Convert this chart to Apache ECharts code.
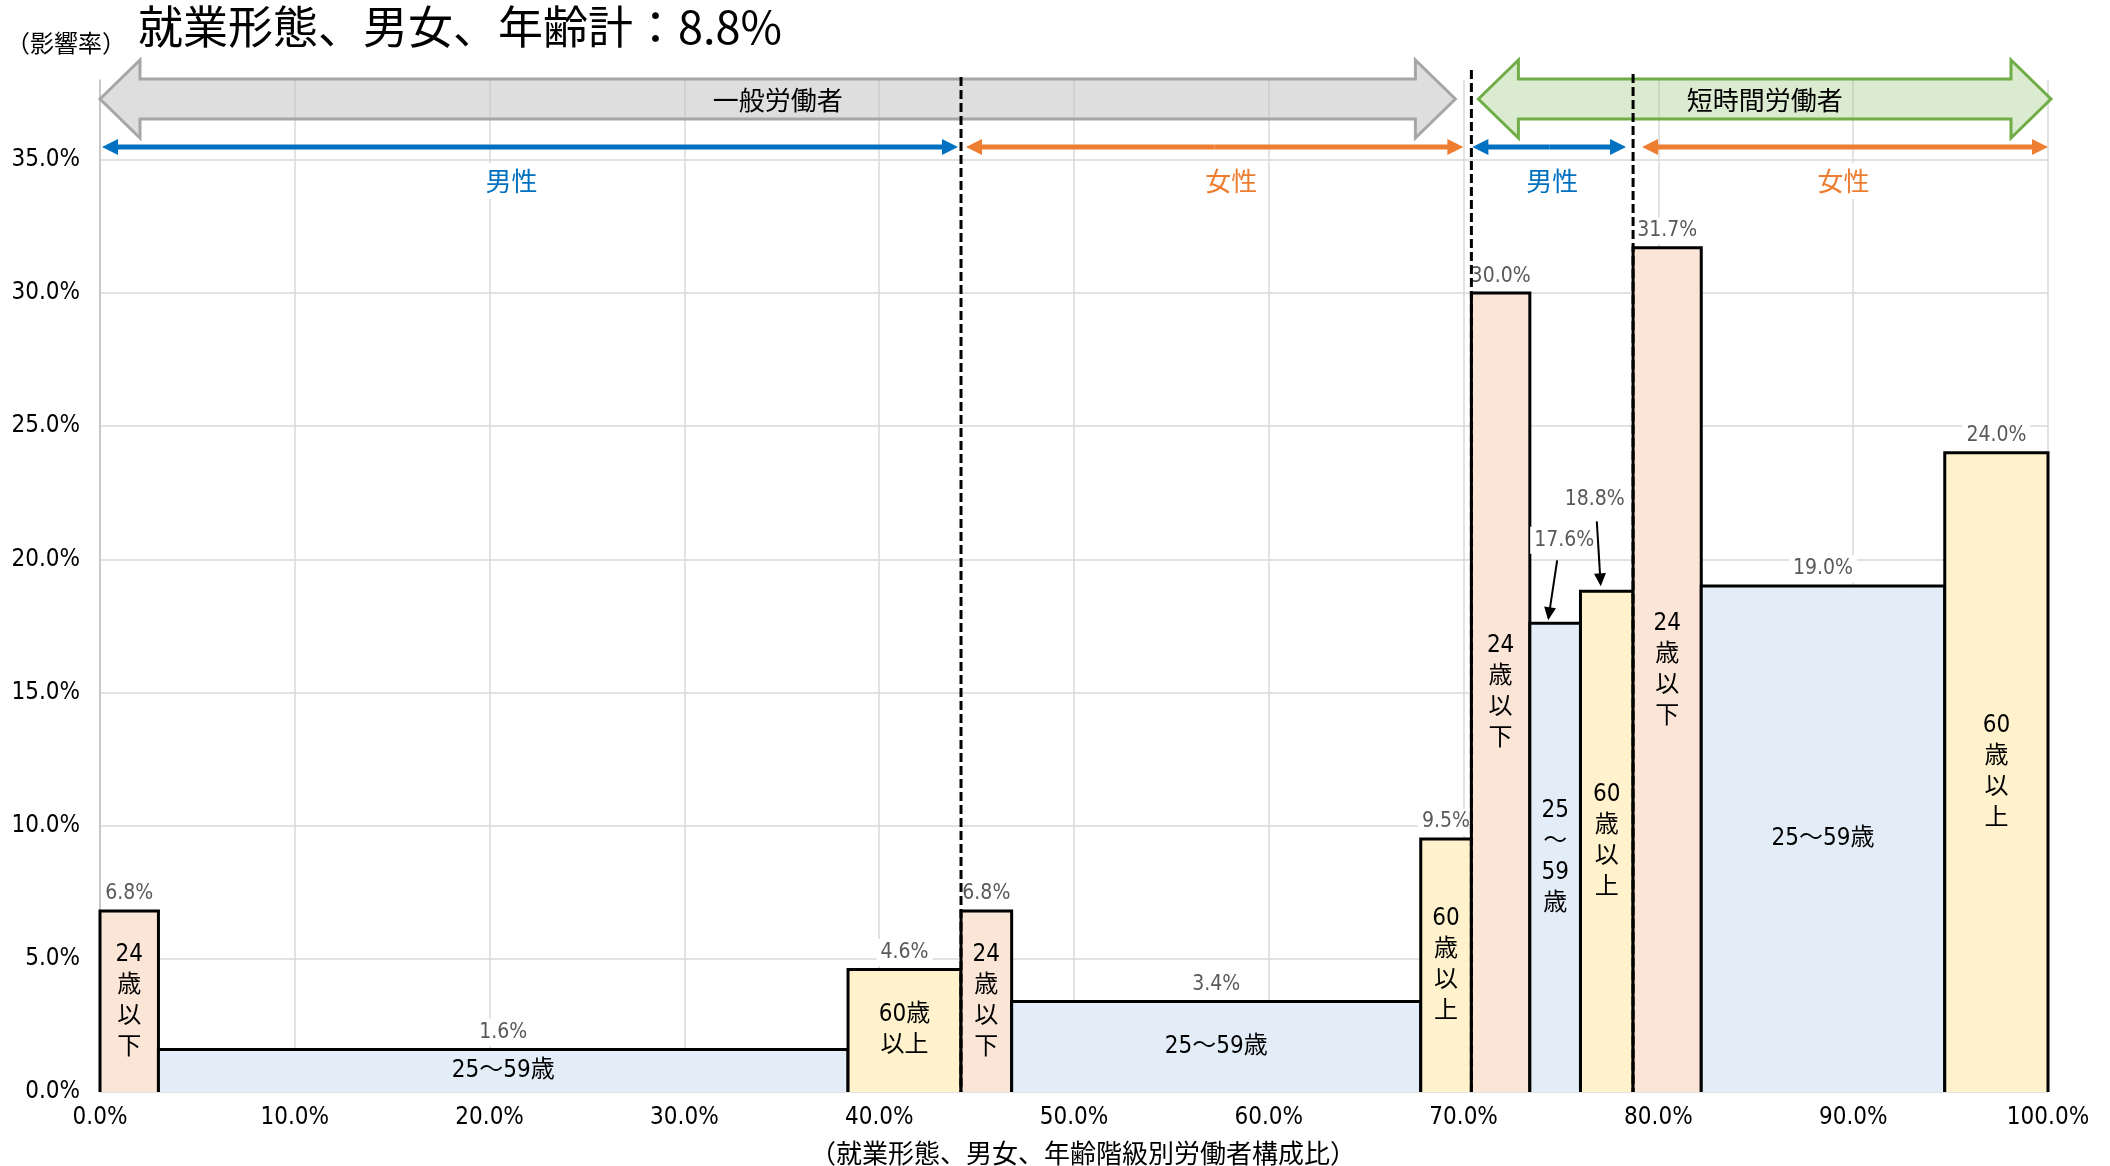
<!DOCTYPE html>
<html><head><meta charset="utf-8">
<script src="https://cdn.jsdelivr.net/npm/echarts@6/dist/echarts.min.js"></script>
<style>html,body{margin:0;padding:0;background:#fff}#c{width:2110px;height:1166px}</style>
</head><body><div id="c"></div>
<script>
// ---------------- data ----------------
const titleText = '就業形態、男女、年齢計：8.8%';
const yAxisTitle = '（影響率）';
const xAxisTitle = '（就業形態、男女、年齢階級別労働者構成比）';
const employmentTypes = ['一般労働者', '短時間労働者'];
const sexLabels = ['男性', '女性', '男性', '女性'];
const ageGroups = ['24歳以下', '25～59歳', '60歳以上'];
// composition ratio of each segment (% of workers), ordered employment > sex > age
const shares = [3.0, 35.4, 5.8, 2.6, 21.0, 2.6, 3.0, 2.6, 2.7, 3.5, 12.5, 5.3];
// impact rate (%)
const rates = [6.8, 1.6, 4.6, 6.8, 3.4, 9.5, 30.0, 17.6, 18.8, 31.7, 19.0, 24.0];
// text written inside each bar
const barTexts = ['24\n歳\n以\n下', '25～59歳', '60歳\n以上',
                  '24\n歳\n以\n下', '25～59歳', '60\n歳\n以\n上',
                  '24\n歳\n以\n下', '25\n～\n59\n歳', '60\n歳\n以\n上',
                  '24\n歳\n以\n下', '25～59歳', '60\n歳\n以\n上'];
const xTickStep = 10;
const yTickStep = 5;
const yTickMax = 35;

// ---------------- derived ----------------
const starts = [];
let acc = 0;
shares.forEach(s => { starts.push(Math.round(acc * 10) / 10); acc += s; });
const ends = starts.map((s, i) => Math.round((s + shares[i]) * 10) / 10);
const barData = rates.map((r, i) => [starts[i], ends[i], r, i]);
const sexBounds = [0, ends[2], ends[5], ends[8], ends[11]];
const empBounds = [0, ends[5], ends[11]];

const NUM_FAMILY = "'DejaVu Sans','Noto Sans CJK JP',sans-serif";
const NUM = sz => 'normal condensed ' + sz + 'px ' + NUM_FAMILY;
const JP_FONT = "'Noto Sans CJK JP','Noto Sans',sans-serif";
const FILLS = ['#FBE5D6', '#E2EDF7', '#FFF2CC'];
const BLUE = '#0070C0', ORANGE = '#ED7D31';
const sexColors = [BLUE, ORANGE, BLUE, ORANGE];

const callouts = {
  7: { lx: 9, ly: -83, ax1: 2, ay1: -63, ax2: -7, ay2: -3 },
  8: { lx: -12, ly: -92, ax1: -10, ay1: -70, ax2: -6, ay2: -5 }
};

function arrowLine(x1, y1, x2, y2, color, lw, hl, hw) {
  const dx = x2 - x1, dy = y2 - y1, len = Math.sqrt(dx * dx + dy * dy);
  const ux = dx / len, uy = dy / len;
  const bx = x2 - ux * hl, by = y2 - uy * hl;
  return [
    { type: 'line', shape: { x1: x1, y1: y1, x2: bx + ux, y2: by + uy }, style: { stroke: color, lineWidth: lw } },
    { type: 'polygon', shape: { points: [[x2, y2], [bx - uy * hw, by + ux * hw], [bx + uy * hw, by - ux * hw]] }, style: { fill: color } }
  ];
}

function renderBar(params, api) {
  const s = api.value(0), e = api.value(1), v = api.value(2), i = api.value(3);
  const p0 = api.coord([s, v]), p1 = api.coord([e, 0]);
  const x0 = p0[0], yt = p0[1], x1 = p1[0], yb = p1[1];
  const cx = (x0 + x1) / 2;
  const children = [
    { type: 'rect', shape: { x: x0, y: yt, width: x1 - x0, height: yb - yt }, style: { fill: FILLS[i % 3] } },
    { type: 'polyline', shape: { points: [[x0, yb], [x0, yt], [x1, yt], [x1, yb]] }, style: { stroke: '#000', lineWidth: 3, fill: null } },
    { type: 'text', x: cx, y: (yt + yb) / 2, style: { text: barTexts[i], font: NUM(24), fill: '#000', align: 'center', verticalAlign: 'middle', lineHeight: 31 } }
  ];
  const lbl = v.toFixed(1) + '%';
  const c = callouts[i];
  const lblStyle = { text: lbl, font: NUM(21), fill: '#595959', align: 'center', verticalAlign: 'middle', backgroundColor: '#fff', padding: [3, 4] };
  if (c) {
    children.push({ type: 'text', x: cx + c.lx, y: yt + c.ly, style: lblStyle });
    arrowLine(cx + c.ax1, yt + c.ay1, cx + c.ax2, yt + c.ay2, '#000', 2, 13, 6).forEach(el => children.push(el));
  } else {
    children.push({ type: 'text', x: cx, y: yt - 17, style: lblStyle });
  }
  return { type: 'group', children: children };
}

function renderAnno(params, api) {
  const yTop = api.coord([0, 38])[1];
  const yBot = api.coord([0, 0])[1];
  const X = v => api.coord([v, 0])[0];
  const ch = [];
  const yc = yTop + 19, bh = 20, hh = 39, hl = 40;
  const empStyles = [
    { fill: 'rgba(191,191,191,0.52)', stroke: '#A6A6A6', xa: X(empBounds[0]), xb: X(empBounds[1]) - 16, dx: -8 },
    { fill: 'rgba(169,208,142,0.42)', stroke: '#70AD47', xa: X(empBounds[1]) + 7, xb: X(empBounds[2]) + 3, dx: 5 }
  ];
  empStyles.forEach((st, k) => {
    const xa = st.xa, xb = st.xb;
    ch.push({ type: 'polygon', shape: { points: [[xa, yc], [xa + hl, yc - hh], [xa + hl, yc - bh], [xb - hl, yc - bh], [xb - hl, yc - hh], [xb, yc], [xb - hl, yc + hh], [xb - hl, yc + bh], [xa + hl, yc + bh], [xa + hl, yc + hh]] },
      style: { fill: st.fill, stroke: st.stroke, lineWidth: 3, lineJoin: 'miter' } });
    ch.push({ type: 'text', x: (X(empBounds[k]) + X(empBounds[k + 1])) / 2 + st.dx, y: yc + 1, style: { text: employmentTypes[k], font: '26px ' + JP_FONT, fill: '#000', align: 'center', verticalAlign: 'middle' } });
  });
  const ya = yTop + 67;
  const offs = [[2, -3], [5, -8], [1, -7], [9, 0]];
  const labelShift = [-19, 15, 0, 3];
  for (let k = 0; k < 4; k++) {
    const xa = X(sexBounds[k]) + offs[k][0], xb = X(sexBounds[k + 1]) + offs[k][1];
    const col = sexColors[k];
    const mid = (xa + xb) / 2;
    arrowLine(mid, ya, xa, ya, col, 5, 16, 8).forEach(el => ch.push(el));
    arrowLine(mid, ya, xb, ya, col, 5, 16, 8).forEach(el => ch.push(el));
    ch.push({ type: 'text', x: (X(sexBounds[k]) + X(sexBounds[k + 1])) / 2 + labelShift[k], y: yTop + 101, style: { text: sexLabels[k], font: '26px ' + JP_FONT, fill: col, align: 'center', verticalAlign: 'middle', backgroundColor: '#fff', padding: [5, 6] } });
  }
  [[sexBounds[1], -3], [sexBounds[2], -10], [sexBounds[3], -6]].forEach(d => {
    const x = X(d[0]);
    ch.push({ type: 'line', shape: { x1: x, y1: yTop + d[1], x2: x, y2: yBot }, style: { stroke: '#000', lineWidth: 3, lineDash: [9, 4] }, z2: 10 });
  });
  return { type: 'group', children: ch };
}

const chart = echarts.init(document.getElementById('c'));
chart.setOption({
  animation: false,
  backgroundColor: '#fff',
  grid: { left: 100, right: 62, top: 80, bottom: 74, containLabel: false },
  xAxis: {
    type: 'value', min: 0, max: 100, interval: xTickStep,
    axisLine: { show: false }, axisTick: { show: false },
    axisLabel: { formatter: v => v.toFixed(1) + '%', fontFamily: NUM_FAMILY, fontWeight: 'condensed', fontSize: 24, color: '#000', margin: 14 },
    splitLine: { show: true, lineStyle: { color: '#D9D9D9', width: 1.5 } }
  },
  yAxis: {
    type: 'value', min: 0, max: 38, interval: yTickStep,
    axisLine: { show: true, lineStyle: { color: '#BFBFBF', width: 1.5 } }, axisTick: { show: false },
    axisLabel: { formatter: v => (v <= yTickMax ? v.toFixed(1) + '%' : ''), showMaxLabel: false, fontFamily: NUM_FAMILY, fontWeight: 'condensed', fontSize: 24, color: '#000', margin: 20 },
    splitLine: { show: true, showMaxLine: false, lineStyle: { color: '#D9D9D9', width: 1.5 } }
  },
  graphic: [
    { type: 'text', left: 138, top: 4, style: { text: titleText, font: '45px ' + JP_FONT, fill: '#000' } },
    { type: 'text', left: 6, top: 31, style: { text: yAxisTitle, font: '24px ' + JP_FONT, fill: '#000' } },
    { type: 'text', x: 1083, y: 1153, style: { text: xAxisTitle, font: '26px ' + JP_FONT, fill: '#000', align: 'center', verticalAlign: 'middle' } }
  ],
  series: [
    { type: 'custom', renderItem: renderBar, data: barData, encode: { x: [0, 1], y: 2 }, z: 3, clip: false },
    { type: 'custom', renderItem: renderAnno, data: [[0, 0]], encode: { x: 0, y: 1 }, z: 4, clip: false, silent: true }
  ]
});
</script></body></html>
